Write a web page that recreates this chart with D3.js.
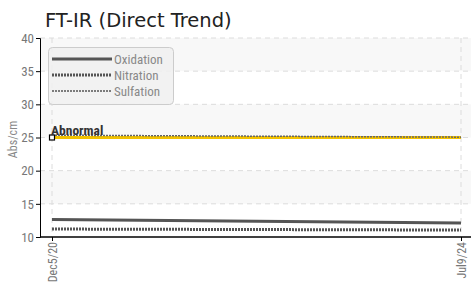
<!DOCTYPE html>
<html><head><meta charset="utf-8">
<script src="https://cdn.jsdelivr.net/npm/d3@7"></script>
<style>
body{margin:0;background:#fff;}
text{font-family:"Liberation Sans Narrow","Roboto Condensed","DejaVu Sans Condensed",sans-serif;}
</style></head>
<body><svg id="c" width="471" height="294"></svg>
<script>
const dates = ["Dec5/20", "Jul9/24"];
const yTicks = [10, 15, 20, 25, 30, 35, 40];
const oxidation = [12.65, 12.1];
const nitration = [11.2, 11.05];
const sulfation = [25.35, 25.05];
const abnormal = [25, 25];
const seriesNames = ["Oxidation", "Nitration", "Sulfation"];

const svg = d3.select("#c");
const L = 40, R = 471, T = 38, B = 237;
const x = d3.scalePoint().domain(dates).range([52, 461]);
const y = d3.scaleLinear().domain([10, 40]).range([B, T]);

// bands
for (let i = 0; i < yTicks.length - 1; i++) {
  const a = yTicks[i], b = yTicks[i+1];
  if (i % 2 === 0) continue;
  svg.append("rect").attr("x", L).attr("width", R - L)
    .attr("y", y(b)).attr("height", y(a) - y(b)).attr("fill", "#f8f8f8");
}
// horizontal grid
svg.append("g").selectAll("line").data(yTicks.slice(1)).join("line")
  .attr("x1", L).attr("x2", R).attr("y1", d => y(d)).attr("y2", d => y(d))
  .attr("stroke", "#dcdcdc").attr("stroke-dasharray", "5,4");
// vertical grid
svg.append("g").selectAll("line").data(dates).join("line")
  .attr("x1", d => x(d)).attr("x2", d => x(d)).attr("y1", T).attr("y2", B)
  .attr("stroke", "#dcdcdc").attr("stroke-dasharray", "5,4");

const line = d3.line().x((d, i) => x(dates[i])).y(d => y(d));

// abnormal limit
svg.append("path").datum(abnormal).attr("d", line).attr("fill", "none")
  .attr("stroke", "#f2c200").attr("stroke-width", 3);
// sulfation
svg.append("path").datum(sulfation).attr("d", line).attr("fill", "none")
  .attr("stroke", "#666").attr("stroke-width", 1.5).attr("stroke-dasharray", "2,1");
// oxidation
svg.append("path").datum(oxidation).attr("d", line).attr("fill", "none")
  .attr("stroke", "#555").attr("stroke-width", 3);
// nitration
svg.append("path").datum(nitration).attr("d", line).attr("fill", "none")
  .attr("stroke", "#555").attr("stroke-width", 3).attr("stroke-dasharray", "2,1");

// abnormal marker & label
svg.append("rect").attr("x", x(dates[0]) - 2.5).attr("y", y(abnormal[0]) - 2.5)
  .attr("width", 5).attr("height", 5).attr("fill", "#fff").attr("stroke", "#000").attr("stroke-width", 1.2);
svg.append("text").attr("x", x(dates[0]) - 1).attr("y", y(abnormal[0]) - 3)
  .attr("font-size", 13.5).attr("font-weight", "bold").attr("fill", "#333").text("Abnormal");

// axes
const yAxis = d3.axisLeft(y).tickValues(yTicks).tickSize(4).tickPadding(2);
const gy = svg.append("g").attr("transform", `translate(${L},0)`).call(yAxis);
gy.select(".domain").attr("stroke", "#000");
gy.selectAll(".tick line").attr("stroke", "#000");
gy.selectAll("text").attr("font-size", 13).attr("fill", "#777");

svg.append("line").attr("x1", L).attr("x2", R).attr("y1", B).attr("y2", B).attr("stroke", "#000").attr("stroke-width", 1.3);
const xAxis = d3.axisBottom(x).tickSize(4).tickSizeOuter(0);
const gx = svg.append("g").attr("transform", `translate(0,${B})`).call(xAxis);
gx.select(".domain").remove();
gx.selectAll(".tick line").attr("stroke", "#000");
gx.selectAll("text").attr("font-size", 12).attr("fill", "#777")
  .attr("transform", "rotate(-90)").attr("text-anchor", "end")
  .attr("x", -5).attr("y", 0).attr("dy", "0.35em");

// y label
svg.append("text").attr("transform", `translate(17,${(T+B)/2+2}) rotate(-90)`)
  .attr("text-anchor", "middle").attr("font-size", 12).attr("fill", "#888").text("Abs/cm");

// title
svg.append("text").attr("x", 45).attr("y", 27).attr("font-size", 19.5)
  .style("font-family", "'DejaVu Sans', sans-serif").attr("fill", "#222").text("FT-IR (Direct Trend)");

// legend
const lg = svg.append("g");
lg.append("rect").attr("x", 48.5).attr("y", 47.5).attr("width", 125).attr("height", 57).attr("rx", 4)
  .attr("fill", "#f0f0f0").attr("fill-opacity", 0.85).attr("stroke", "#ccc");
const styles = [
  {w: 3, dash: null},
  {w: 3, dash: "2,1"},
  {w: 1.5, dash: "2,1"}
];
seriesNames.forEach((n, i) => {
  const yy = 59 + i * 16;
  lg.append("line").attr("x1", 52).attr("x2", 112).attr("y1", yy).attr("y2", yy)
    .attr("stroke", "#555").attr("stroke-width", styles[i].w).attr("stroke-dasharray", styles[i].dash);
  lg.append("text").attr("x", 114).attr("y", yy + 4.5).attr("font-size", 13).attr("fill", "#888").text(n);
});
</script></body></html>
